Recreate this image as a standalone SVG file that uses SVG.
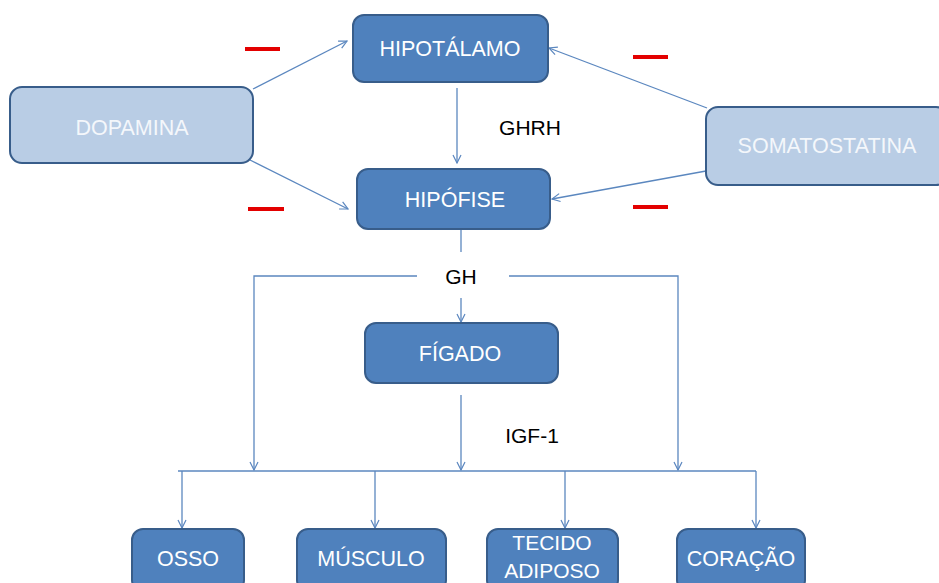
<svg xmlns="http://www.w3.org/2000/svg" width="939" height="583" viewBox="0 0 939 583">
<defs>
<style>
.dark{fill:#4f81bd;stroke:#385d8a;stroke-width:2}
.light{fill:#b9cde5;stroke:#385d8a;stroke-width:2}
.lbl{font-family:"Liberation Sans",Arial,sans-serif;font-size:21.5px;fill:#ffffff;text-anchor:middle}
.llbl{font-family:"Liberation Sans",Arial,sans-serif;font-size:21.5px;fill:#f4f7fb;text-anchor:middle}
.txt{font-family:"Liberation Sans",Arial,sans-serif;font-size:21px;fill:#000000;text-anchor:middle}
.con{stroke:#5b87bf;stroke-width:1.3;fill:none}
.arr{marker-end:url(#ah)}
.minus{stroke:#e30000;stroke-width:4}
</style>
<marker id="ah" markerWidth="10" markerHeight="10" refX="9" refY="5" orient="auto" markerUnits="userSpaceOnUse">
<path d="M1,1 L9,5 L1,9" fill="none" stroke="#5b87bf" stroke-width="1.2"/>
</marker>
</defs>
<rect width="939" height="583" fill="#ffffff"/>
<g id="connectors">
<line class="con arr" x1="253" y1="89" x2="347" y2="41"/>
<line class="con arr" x1="250" y1="160" x2="348" y2="209"/>
<line class="con arr" x1="707" y1="108" x2="549" y2="48"/>
<line class="con arr" x1="706" y1="171" x2="552" y2="199"/>
<line class="con arr" x1="457" y1="88" x2="457" y2="163"/>
<line class="con" x1="461" y1="229" x2="461" y2="252"/>
<line class="con arr" x1="461" y1="298" x2="461" y2="322"/>
<polyline class="con arr" points="417,276 254,276 254,470"/>
<polyline class="con arr" points="509,276 678,276 678,470"/>
<line class="con arr" x1="461" y1="395" x2="461" y2="470"/>
<line class="con" x1="178" y1="471" x2="756" y2="471"/>
<line class="con arr" x1="182" y1="471" x2="182" y2="528"/>
<line class="con arr" x1="375" y1="471" x2="375" y2="528"/>
<line class="con arr" x1="565" y1="471" x2="565" y2="528"/>
<line class="con arr" x1="756" y1="471" x2="756" y2="528"/>
</g>
<g id="labels">
<text class="txt" x="530" y="135">GHRH</text>
<text class="txt" x="461" y="284">GH</text>
<text class="txt" x="532" y="443">IGF-1</text>
</g>
<g id="inhibitions">
<line class="minus" x1="245" y1="49" x2="280" y2="49"/>
<line class="minus" x1="633" y1="57" x2="668" y2="57"/>
<line class="minus" x1="248" y1="209" x2="284" y2="209"/>
<line class="minus" x1="633" y1="207" x2="668" y2="207"/>
</g>
<g id="dopamina"><rect class="light" x="10" y="87" width="243" height="76" rx="12"/><text class="llbl" x="132" y="135">DOPAMINA</text></g>
<g id="hipotalamo"><rect class="dark" x="353" y="15" width="195" height="67" rx="11"/><text class="lbl" x="450" y="56">HIPOTÁLAMO</text></g>
<g id="hipofise"><rect class="dark" x="357" y="169" width="193" height="60" rx="11"/><text class="lbl" x="455" y="207">HIPÓFISE</text></g>
<g id="somatostatina"><rect class="light" x="706" y="107" width="242" height="78" rx="12"/><text class="llbl" x="827" y="153">SOMATOSTATINA</text></g>
<g id="figado"><rect class="dark" x="365" y="323" width="193" height="60" rx="11"/><text class="lbl" x="460" y="361">FÍGADO</text></g>
<g id="osso"><rect class="dark" x="132" y="529" width="112" height="62" rx="11"/><text class="lbl" x="188" y="566">OSSO</text></g>
<g id="musculo"><rect class="dark" x="297" y="529" width="149" height="62" rx="11"/><text class="lbl" x="371" y="566">MÚSCULO</text></g>
<g id="tecido"><rect class="dark" x="487" y="529" width="131" height="62" rx="11"/><text class="lbl" x="552" y="550" style="font-size:21px">TECIDO</text><text class="lbl" x="552" y="578" style="font-size:21px">ADIPOSO</text></g>
<g id="coracao"><rect class="dark" x="677" y="529" width="128" height="62" rx="11"/><text class="lbl" x="741" y="566">CORAÇÃO</text></g>
</svg>
